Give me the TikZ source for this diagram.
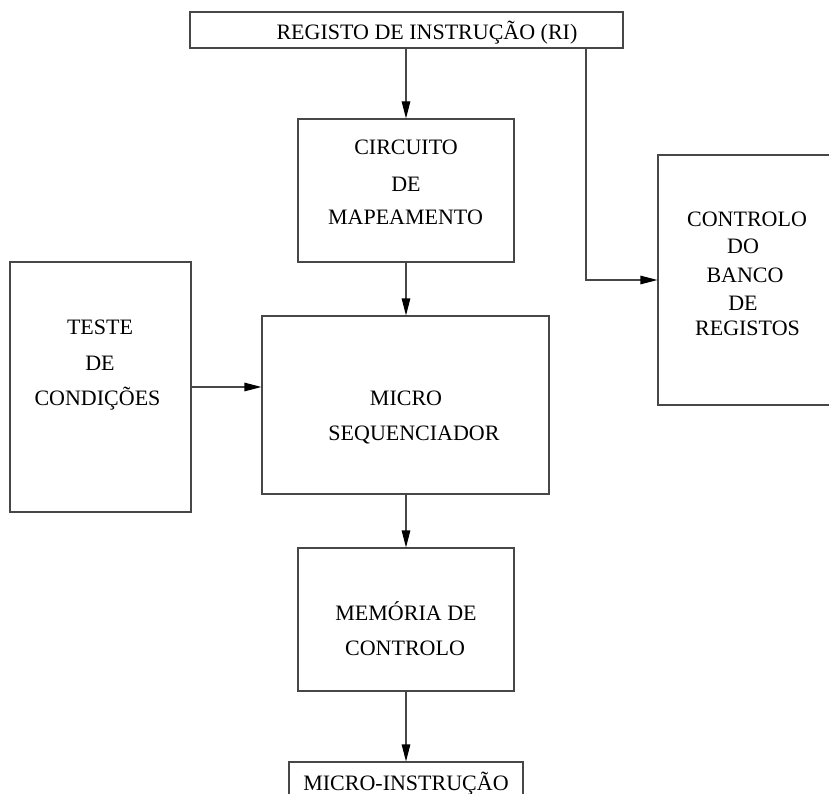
\documentclass[tikz,border=0pt]{standalone}
\usepackage{fontspec}
\setmainfont{Liberation Serif}
\usetikzlibrary{arrows.meta}
\begin{document}
\begin{tikzpicture}[x=1pt,y=-1pt,
  box/.style={draw=black!72,line width=1.1pt,rectangle,inner sep=0pt},
  lbl/.style={inner sep=0pt,text height=14pt,text depth=0pt,font=\fontsize{22}{24}\selectfont},
  conn/.style={draw=black!72,line width=1.1pt,-{Triangle[length=17pt,width=8.5pt,black]}}]
\useasboundingbox (0,0) rectangle (829,794);
\clip (0,0) rectangle (829,794);
% boxes
\node[box,minimum width=433pt,minimum height=36pt] (ri) at (406.5,30) {};
\node[box,minimum width=216pt,minimum height=143pt] (map) at (406,190.5) {};
\node[box,minimum width=190pt,minimum height=250pt] (ctrl) at (753,280) {};
\node[box,minimum width=181pt,minimum height=250pt] (test) at (100.5,387) {};
\node[box,minimum width=287pt,minimum height=178pt] (seq) at (405.5,405) {};
\node[box,minimum width=216pt,minimum height=143pt] (mem) at (406,619.5) {};
\node[box,minimum width=234pt,minimum height=44pt] (mi) at (406,784) {};
% texts
\node[lbl] (riT) at (427,33) {REGISTO DE INSTRUÇÃO (RI)};
\node[lbl] (mapA) at (406,148) {CIRCUITO};
\node[lbl] (mapB) at (406,185) {DE};
\node[lbl] (mapC) at (405.5,218) {MAPEAMENTO};
\node[lbl] (ctrlA) at (747,220) {CONTROLO};
\node[lbl] (ctrlB) at (743,247) {DO};
\node[lbl] (ctrlC) at (745,275) {BANCO};
\node[lbl] (ctrlD) at (743,303) {DE};
\node[lbl] (ctrlE) at (747.5,328) {REGISTOS};
\node[lbl] (testA) at (100,327) {TESTE};
\node[lbl] (testB) at (100,363) {DE};
\node[lbl] (testC) at (97.5,398) {CONDIÇÕES};
\node[lbl] (seqA) at (406,398) {MICRO};
\node[lbl] (seqB) at (414,433) {SEQUENCIADOR};
\node[lbl] (memA) at (406,613) {MEMÓRIA DE};
\node[lbl] (memB) at (405,648) {CONTROLO};
\node[lbl] (miT) at (406,783) {MICRO-INSTRUÇÃO};
% connectors
\draw[conn] (ri.south -| map.north) -- (map.north);
\coordinate (riR) at (586,0);
\draw[conn] (ri.south -| riR) |- (ctrl.west);
\draw[conn] (map.south) -- (map.south |- seq.north);
\draw[conn] (test.east) -- (test.east -| seq.west);
\draw[conn] (seq.south -| mem.north) -- (mem.north);
\draw[conn] (mem.south) -- (mem.south |- mi.north);
\end{tikzpicture}
\end{document}
